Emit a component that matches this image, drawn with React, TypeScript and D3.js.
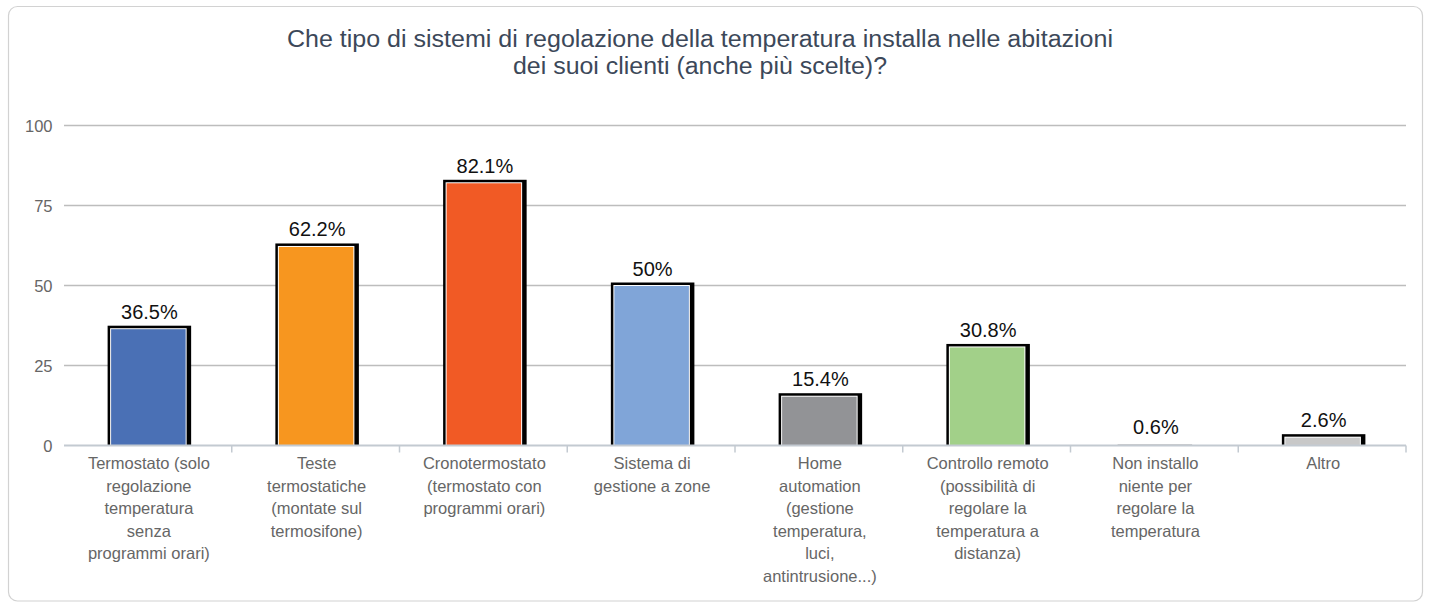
import React from "react";
import * as d3 from "d3";

const titleLines = [
  "Che tipo di sistemi di regolazione della temperatura installa nelle abitazioni",
  "dei suoi clienti (anche più scelte)?",
];

const categories = [
  "Termostato",
  "Teste termostatiche",
  "Cronotermostato",
  "Sistema di gestione a zone",
  "Home automation",
  "Controllo remoto",
  "Non installo niente",
  "Altro",
];

const categoryLabelLines = [
  ["Termostato (solo", "regolazione", "temperatura", "senza", "programmi orari)"],
  ["Teste", "termostatiche", "(montate sul", "termosifone)"],
  ["Cronotermostato", "(termostato con", "programmi orari)"],
  ["Sistema di", "gestione a zone"],
  ["Home", "automation", "(gestione", "temperatura,", "luci,", "antintrusione...)"],
  ["Controllo remoto", "(possibilità di", "regolare la", "temperatura a", "distanza)"],
  ["Non installo", "niente per", "regolare la", "temperatura"],
  ["Altro"],
];

const values = [36.5, 62.2, 82.1, 50, 15.4, 30.8, 0.6, 2.6];
const valueLabels = ["36.5%", "62.2%", "82.1%", "50%", "15.4%", "30.8%", "0.6%", "2.6%"];
const barColors = ["#4a70b5", "#f7961f", "#f15a25", "#80a5d8", "#929396", "#a2d089", "#c8c8c8", "#c8c8c8"];
const yTicks = [0, 25, 50, 75, 100];

const W = 1437;
const H = 611;
const plotLeft = 64;
const plotRight = 1406;
const yTop = 125.5;
const yBottom = 445.5;
const FONT = "'Liberation Sans', Arial, sans-serif";

export default function App() {
  const x = d3
    .scaleBand<string>()
    .domain(categories)
    .range([plotLeft, plotRight])
    .paddingInner(0.52)
    .paddingOuter(0.26);
  const y = d3.scaleLinear().domain([0, 100]).range([yBottom, yTop]);
  const step = x.step();
  const bw = x.bandwidth();
  const boundaries = d3.range(1, categories.length + 1).map((i) => plotLeft + step * i);

  return (
    <svg
      width={W}
      height={H}
      style={{ position: "absolute", left: 0, top: 0, display: "block", background: "#fff" }}
    >
      <rect x={8.5} y={6.5} width={1414} height={594.5} rx={9} fill="#fff" stroke="#d2d2d2" strokeWidth={1.2} />
      {titleLines.map((t, i) => (
        <text
          key={i}
          x={700}
          y={47 + i * 27}
          textAnchor="middle"
          fontFamily={FONT}
          fontSize={23}
          fill="#3c4859"
          textLength={i === 0 ? 826 : 374}
          lengthAdjust="spacingAndGlyphs"
        >
          {t}
        </text>
      ))}
      {yTicks.map((t) => (
        <g key={t}>
          {t > 0 && (
            <line x1={plotLeft} x2={plotRight} y1={y(t)} y2={y(t)} stroke="#bdbdbd" strokeWidth={1.5} />
          )}
          <text
            x={52.5}
            y={y(t) + 6.5}
            textAnchor="end"
            fontFamily={FONT}
            fontSize={16.5}
            fill="#666"
          >
            {t}
          </text>
        </g>
      ))}
      {categories.map((c, i) => {
        const x0 = x(c)!;
        const yv = y(values[i]);
        const h = yBottom - yv;
        const framed = h >= 4;
        return (
          <g key={c}>
            {framed && (
              <>
                <rect x={x0} y={yv - 3} width={bw + 3} height={h + 3} fill="#000" />
                <rect x={x0 + 2.5} y={yv - 0.5} width={bw - 4} height={h + 0.5} fill="#fff" />
              </>
            )}
            <rect
              x={x0 + 3.5}
              y={yv + 0.5}
              width={bw - 6}
              height={Math.max(0, h - 0.5)}
              fill={barColors[i]}
            />
            <text
              x={x0 + bw / 2 + 1.5}
              y={yv - 10}
              textAnchor="middle"
              fontFamily={FONT}
              fontSize={20}
              fill="#111"
            >
              {valueLabels[i]}
            </text>
          </g>
        );
      })}
      <line x1={plotLeft} x2={plotRight} y1={yBottom} y2={yBottom} stroke="#c3cad1" strokeWidth={2} />
      {boundaries.map((bx, i) => (
        <line key={i} x1={bx} x2={bx} y1={yBottom} y2={yBottom + 7} stroke="#c3cad1" strokeWidth={1.5} />
      ))}
      {categories.map((c, i) => (
        <text
          key={c}
          x={x(c)! + bw / 2 + 1}
          y={469}
          textAnchor="middle"
          fontFamily={FONT}
          fontSize={16.5}
          fill="#666"
        >
          {categoryLabelLines[i].map((line, j) => (
            <tspan key={j} x={x(c)! + bw / 2 + 1} dy={j === 0 ? 0 : 22.5}>
              {line}
            </tspan>
          ))}
        </text>
      ))}
    </svg>
  );
}
